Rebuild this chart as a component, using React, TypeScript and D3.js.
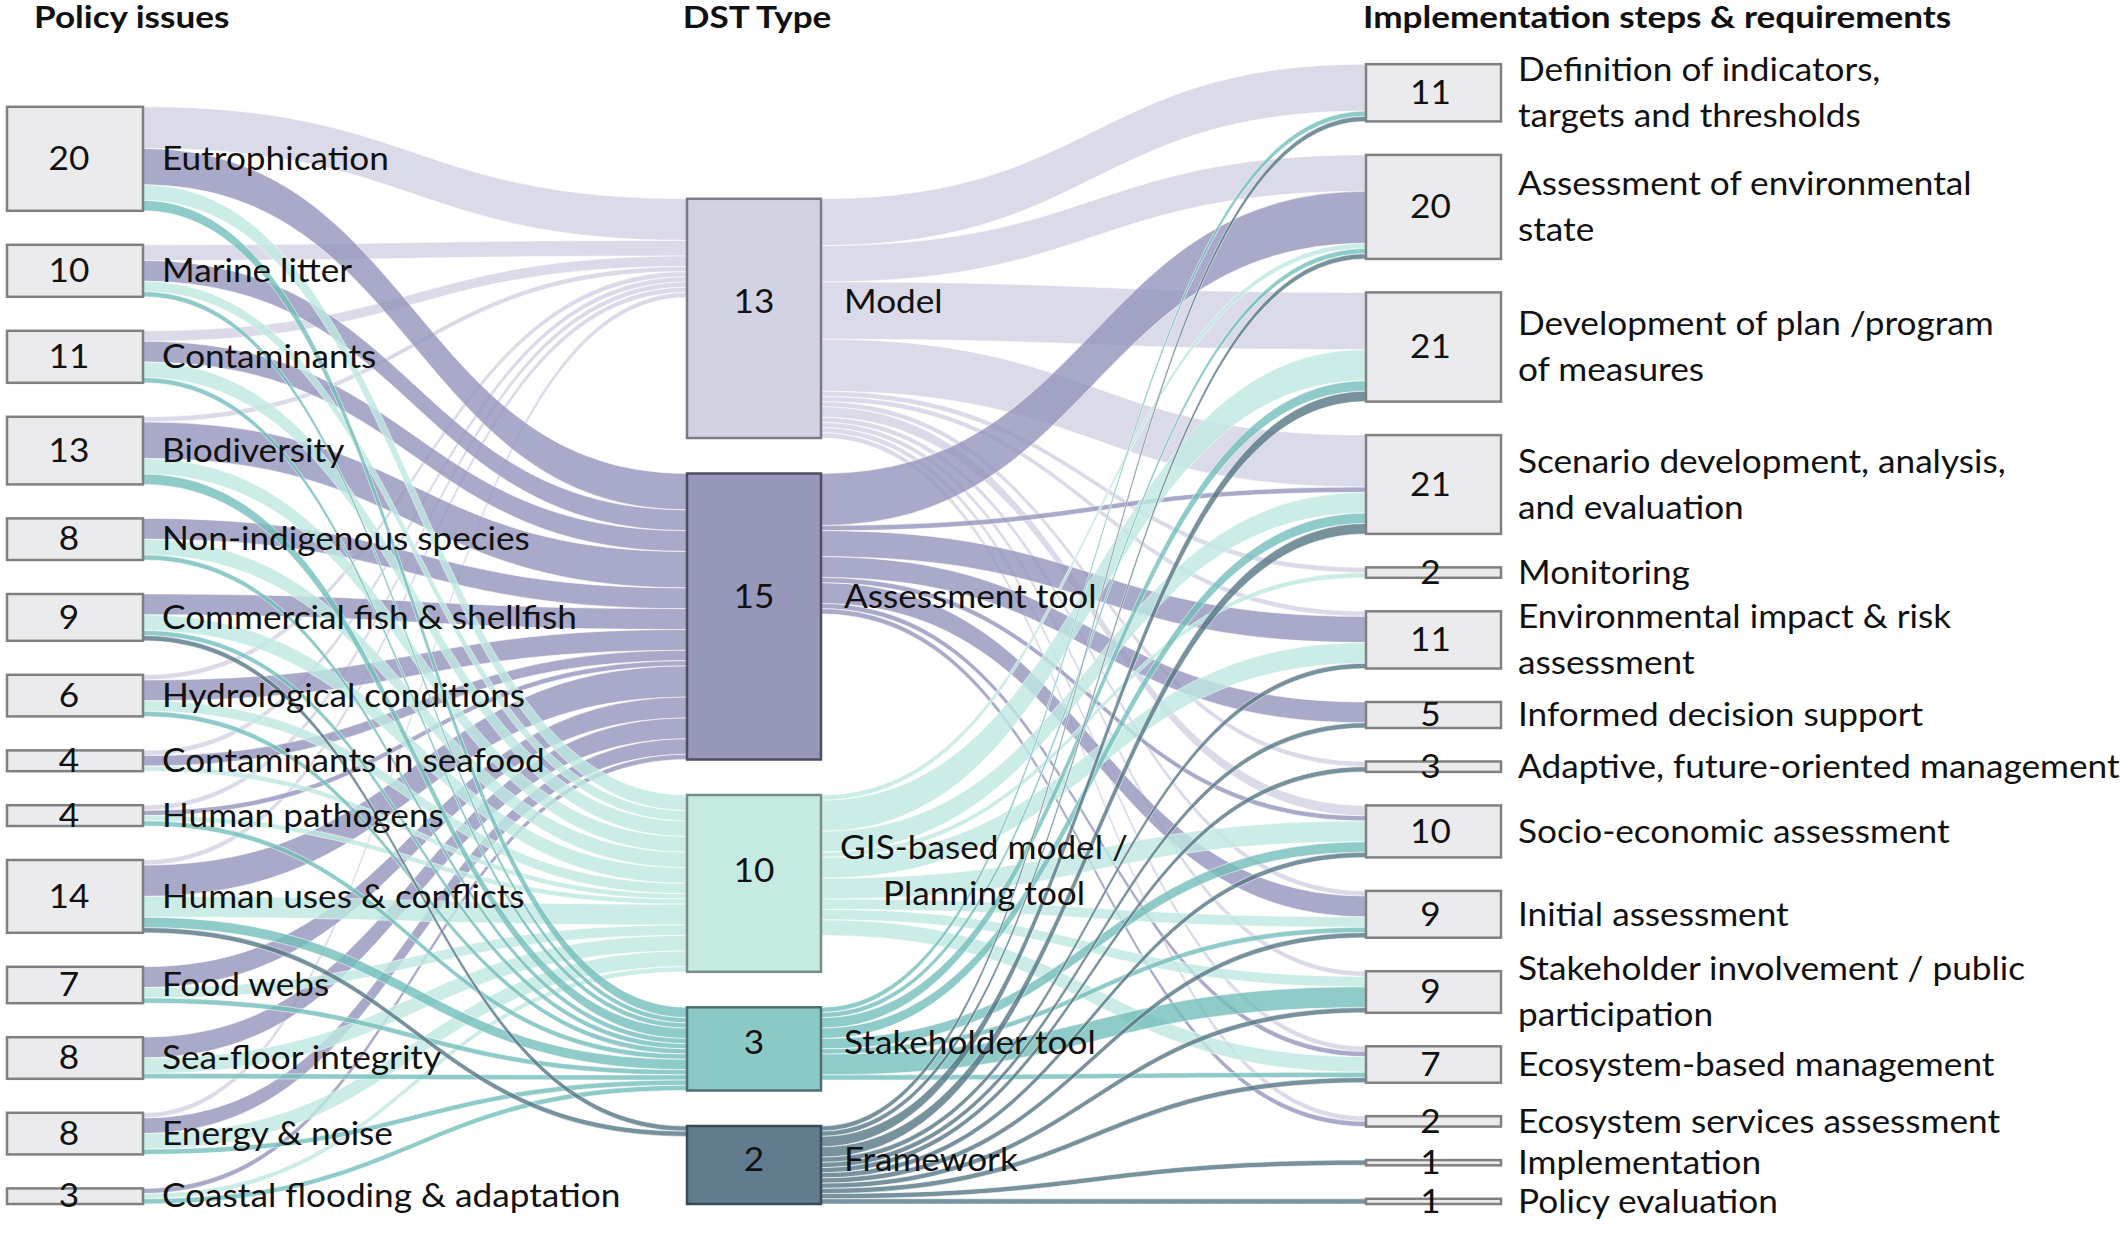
import React from "react";
import * as d3 from "d3";

// ---------------- DATA ----------------
const policyIssues = [
  "Eutrophication",
  "Marine litter",
  "Contaminants",
  "Biodiversity",
  "Non-indigenous species",
  "Commercial fish & shellfish",
  "Hydrological conditions",
  "Contaminants in seafood",
  "Human pathogens",
  "Human uses & conflicts",
  "Food webs",
  "Sea-floor integrity",
  "Energy & noise",
  "Coastal flooding & adaptation",
];
const policyCounts = [20, 10, 11, 13, 8, 9, 6, 4, 4, 14, 7, 8, 8, 3];

const dstTypes = [
  "Model",
  "Assessment tool",
  "GIS-based model /|Planning tool",
  "Stakeholder tool",
  "Framework",
];
const dstCounts = [13, 15, 10, 3, 2];

const steps = [
  "Definition of indicators,|targets and thresholds",
  "Assessment of environmental|state",
  "Development of plan /program|of measures",
  "Scenario development, analysis,|and evaluation",
  "Monitoring",
  "Environmental impact & risk|assessment",
  "Informed decision support",
  "Adaptive, future-oriented management",
  "Socio-economic assessment",
  "Initial assessment",
  "Stakeholder involvement / public|participation",
  "Ecosystem-based management",
  "Ecosystem services assessment",
  "Implementation",
  "Policy evaluation",
];
const stepCounts = [11, 20, 21, 21, 2, 11, 5, 3, 10, 9, 9, 7, 2, 1, 1];

// policy issue -> DST type (Model, Assessment, GIS, Stakeholder, Framework)
const policyToDst = [
  [8, 7, 3, 2, 0],
  [3, 4, 2, 1, 0],
  [2, 4, 3, 1, 0],
  [1, 7, 3, 2, 0],
  [0, 4, 3, 1, 0],
  [0, 4, 3, 1, 1],
  [1, 4, 2, 1, 0],
  [1, 2, 1, 0, 0],
  [1, 1, 1, 1, 0],
  [1, 6, 4, 2, 1],
  [0, 4, 2, 1, 0],
  [0, 4, 3, 1, 0],
  [1, 3, 3, 1, 0],
  [0, 1, 1, 1, 0],
];

// DST type -> implementation step
const dstToStep = [
  [9, 7, 11, 10, 1, 1, 0, 1, 2, 1, 1, 1, 1, 0, 0],
  [0, 10, 0, 1, 0, 5, 4, 0, 1, 4, 0, 1, 1, 0, 0],
  [0, 1, 6, 4, 1, 4, 0, 0, 4, 2, 2, 3, 0, 0, 0],
  [1, 1, 2, 2, 0, 0, 0, 0, 2, 1, 4, 1, 0, 0, 0],
  [1, 1, 2, 2, 0, 1, 1, 1, 1, 1, 1, 1, 0, 1, 1],
];

const headers = ["Policy issues", "DST Type", "Implementation steps & requirements"];

// ---------------- STYLE ----------------
const dstNodeFill = ["#d3d2e3", "#9797ba", "#c5eae2", "#8ac9c6", "#617b8f"];
const dstNodeStroke = ["#7a7a88", "#4f4f63", "#7b8c88", "#4f6f6e", "#3a4b57"];
const dstLinkColor = ["#d2d1e2", "#9494bb", "#bfe8e1", "#73beba", "#557585"];
const outerFill = "#ebebed";
const outerStroke = "#808080";
const FONT = "Lato, 'Open Sans', 'DejaVu Sans', sans-serif";
const SX = 1.1;

type Node = { x0: number; x1: number; y0: number; y1: number; h: number };

function layoutColumn(
  values: number[],
  x: number,
  w: number,
  pad: number,
  bottom: number,
  k: (v: number) => number
): Node[] {
  const hs = values.map((v) => k(v));
  const total = d3.sum(hs) + pad * (values.length - 1);
  let y = bottom - total;
  return hs.map((h) => {
    const n = { x0: x, x1: x + w, y0: y, y1: y + h, h };
    y += h + pad;
    return n;
  });
}

function ribbon(x0: number, sy: number, x1: number, ty: number, w: number) {
  const p = d3.path();
  const xm = (x0 + x1) / 2;
  p.moveTo(x0, sy);
  p.bezierCurveTo(xm, sy, xm, ty, x1, ty);
  p.lineTo(x1, ty + w);
  p.bezierCurveTo(xm, ty + w, xm, sy + w, x0, sy + w);
  p.closePath();
  return p.toString();
}

function T(props: {
  x: number;
  y: number;
  text: string;
  size: number;
  weight?: string | number;
  anchor?: string;
  sx?: number;
}) {
  const { x, y, text, size, weight = "normal", anchor = "start", sx = SX } = props;
  return (
    <text
      transform={`translate(${x},${y}) scale(${sx},1)`}
      fontSize={size}
      fontWeight={weight}
      textAnchor={anchor as any}
      fontFamily={FONT}
      fill="#111"
    >
      {text}
    </text>
  );
}

export default function App() {
  const W = 2124;
  const H = 1233;
  const k = d3.scaleLinear().domain([0, 1]).range([0, 5.2]);
  const bottom = 1204;

  const leftVals = policyToDst.map((r) => d3.sum(r));
  const midIn = dstTypes.map((_, j) => d3.sum(policyToDst, (r) => r[j]));
  const midOut = dstToStep.map((r) => d3.sum(r));
  const midVals = midIn.map((v, j) => Math.max(v, midOut[j]));
  const rightVals = steps.map((_, j) => d3.sum(dstToStep, (r) => r[j]));

  const L = layoutColumn(leftVals, 7, 136, 34, bottom, k);
  const M = layoutColumn(midVals, 687, 134, 35.5, bottom, k);
  const R = layoutColumn(rightVals, 1366, 135, 33.5, bottom, k);

  type Rib = { d: string; c: number };
  const ribs: Rib[] = [];
  // left -> middle
  const sOffL = L.map((n) => n.y0);
  const tOffM = M.map((n) => n.y0);
  policyToDst.forEach((row, i) =>
    row.forEach((v, j) => {
      if (!v) return;
      const w = k(v);
      ribs.push({ d: ribbon(L[i].x1, sOffL[i], M[j].x0, tOffM[j], w), c: j });
      sOffL[i] += w;
      tOffM[j] += w;
    })
  );
  // middle -> right
  const sOffM = M.map((n) => n.y0);
  const tOffR = R.map((n) => n.y0);
  dstToStep.forEach((row, i) =>
    row.forEach((v, j) => {
      if (!v) return;
      const w = k(v);
      ribs.push({ d: ribbon(M[i].x1, sOffM[i], R[j].x0, tOffR[j], w), c: i });
      sOffM[i] += w;
      tOffR[j] += w;
    })
  );
  const ordered = ribs
    .map((r, idx) => ({ ...r, idx }))
    .sort((a, b) => a.c - b.c || a.idx - b.idx);

  const LBL = 32;
  const NUM = 32;
  const base = (s: number) => s * 0.35;
  const lineGap = 46;

  const multiline = (
    text: string,
    x: number,
    cy: number,
    anchor: string,
    key: string
  ) => {
    const lines = text.split("|");
    return lines.map((ln, li) => (
      <T
        key={key + li}
        x={x}
        y={cy + (li - (lines.length - 1) / 2) * lineGap + base(LBL)}
        text={ln}
        size={LBL}
        anchor={anchor}
      />
    ));
  };

  return (
    <svg
      width={W}
      height={H}
      viewBox={`0 0 ${W} ${H}`}
      style={{ position: "absolute", left: 0, top: 0, background: "#fff" }}
    >
      <rect x={0} y={0} width={W} height={H} fill="#fff" />
      {/* links */}
      <g>
        {ordered.map((r) => (
          <path
            key={r.idx}
            d={r.d}
            fill={dstLinkColor[r.c]}
            fillOpacity={0.8}
            stroke="#fff"
            strokeOpacity={0.55}
            strokeWidth={1}
          />
        ))}
      </g>
      {/* nodes */}
      <g>
        {L.map((n, i) => (
          <rect
            key={"l" + i}
            x={n.x0}
            y={n.y0}
            width={n.x1 - n.x0}
            height={n.h}
            fill={outerFill}
            stroke={outerStroke}
            strokeWidth={2.5}
          />
        ))}
        {M.map((n, i) => (
          <rect
            key={"m" + i}
            x={n.x0}
            y={n.y0}
            width={n.x1 - n.x0}
            height={n.h}
            fill={dstNodeFill[i]}
            stroke={dstNodeStroke[i]}
            strokeWidth={2.5}
          />
        ))}
        {R.map((n, i) => (
          <rect
            key={"r" + i}
            x={n.x0}
            y={n.y0}
            width={n.x1 - n.x0}
            height={n.h}
            fill={outerFill}
            stroke={outerStroke}
            strokeWidth={2.5}
          />
        ))}
      </g>
      {/* texts */}
      <g>
        <T x={34} y={28} text={headers[0]} size={30} weight="bold" sx={1.17} />
        <T x={757} y={28} text={headers[1]} size={30} weight="bold" anchor="middle" sx={1.17} />
        <T x={1363} y={28} text={headers[2]} size={30} weight="bold" sx={1.17} />

        {L.map((n, i) => {
          const cy = (n.y0 + n.y1) / 2;
          return (
            <g key={"lt" + i}>
              <T x={(n.x0 + n.x1) / 2 - 6} y={cy + base(NUM)} text={String(policyCounts[i])} size={NUM} anchor="middle" />
              <T x={n.x1 + 19} y={cy + base(LBL)} text={policyIssues[i]} size={LBL} />
            </g>
          );
        })}
        {M.map((n, i) => {
          const cy = n.y0 + n.h * 0.43;
          const multi = dstTypes[i].includes("|");
          return (
            <g key={"mt" + i}>
              <T x={(n.x0 + n.x1) / 2} y={cy + base(NUM)} text={String(dstCounts[i])} size={NUM} anchor="middle" />
              {multi
                ? multiline(dstTypes[i], n.x1 + 163, cy, "middle", "ml" + i)
                : multiline(dstTypes[i], n.x1 + 23, cy, "start", "ml" + i)}
            </g>
          );
        })}
        {R.map((n, i) => {
          const cy = (n.y0 + n.y1) / 2;
          return (
            <g key={"rt" + i}>
              <T x={(n.x0 + n.x1) / 2 - 3} y={cy + base(NUM)} text={String(stepCounts[i])} size={NUM} anchor="middle" />
              {multiline(steps[i], n.x1 + 17, cy, "start", "rl" + i)}
            </g>
          );
        })}
      </g>
    </svg>
  );
}
